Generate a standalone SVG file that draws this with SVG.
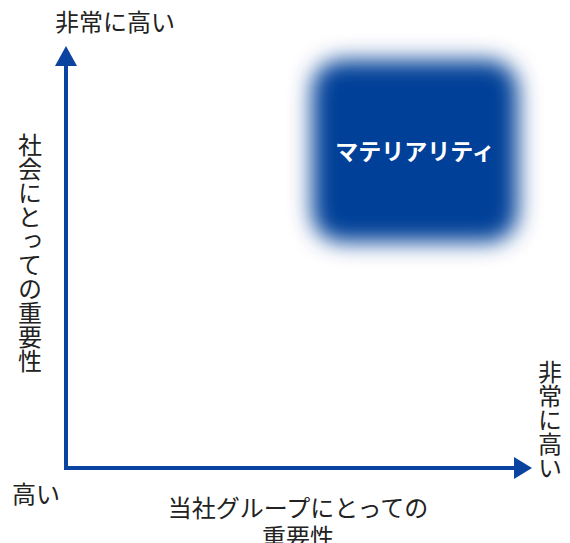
<svg xmlns="http://www.w3.org/2000/svg" width="570" height="543" viewBox="0 0 570 543">
  <style>
    .lbl { font-family: "Noto Sans CJK JP", "Noto Sans", sans-serif; font-size: 24px; fill: #222; }
    .vert { writing-mode: vertical-rl; text-orientation: upright; }
    .axis { stroke: #0a44a0; stroke-width: 4; fill: none; }
    .head { fill: #0a44a0; }
    .mat { font-family: "Noto Sans CJK JP", "Noto Sans", sans-serif; font-size: 23px; font-weight: bold; fill: #ffffff; }
  </style>
  <defs>
    <filter id="blur" x="-30%" y="-30%" width="160%" height="160%">
      <feGaussianBlur stdDeviation="11"/>
    </filter>
  </defs>
  <rect width="570" height="543" fill="#ffffff"/>
  <g id="connectors">
    <polyline class="axis" points="66,64 66,468 516,468"/>
    <polygon class="head" points="66,46 77,66 55,66"/>
    <polygon class="head" points="532,468 514,457 514,479"/>
  </g>
  <g id="materiality">
    <rect x="312" y="60" width="206" height="182" rx="30" fill="#003f98" filter="url(#blur)"/>
    <text class="mat" x="415" y="160" text-anchor="middle">マテリアリティ</text>
  </g>
  <g id="label-y-high">
    <text class="lbl" x="55" y="31">非常に高い</text>
  </g>
  <g id="label-y-axis">
    <text class="lbl vert" x="30" y="133">社会にとっての重要性</text>
  </g>
  <g id="label-x-high">
    <text class="lbl vert" x="550" y="360">非常に高い</text>
  </g>
  <g id="label-origin">
    <text class="lbl" x="12" y="503">高い</text>
  </g>
  <g id="label-x-axis">
    <text class="lbl" x="298" y="517" text-anchor="middle">当社グループにとっての</text>
    <text class="lbl" x="298" y="546" text-anchor="middle">重要性</text>
  </g>
</svg>
